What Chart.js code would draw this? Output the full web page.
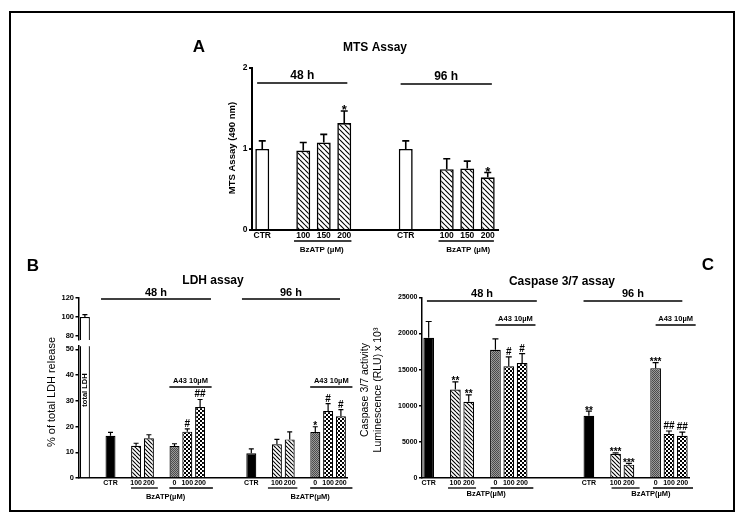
<!DOCTYPE html>
<html>
<head>
<meta charset="utf-8">
<script src="https://cdn.jsdelivr.net/npm/chart.js@4.4.1/dist/chart.umd.min.js"></script>
<style>
html, body { margin: 0; padding: 0; background: #fff; }
#page { position: relative; width: 742px; height: 523px; overflow: hidden; }
#page canvas { position: absolute; left: 0; top: 0; }
#frame { position: absolute; left: 9px; top: 11px; width: 722px; height: 497px; border: 2px solid #000; }
</style>
</head>
<body>
<div id="page">
  <div id="frame"></div>
  <canvas id="chartA" width="742" height="523"></canvas>
  <canvas id="chartBTop" width="742" height="523"></canvas>
  <canvas id="chartB" width="742" height="523"></canvas>
  <canvas id="chartC" width="742" height="523"></canvas>
</div>
<script>
'use strict';

// A - MTS assay
const mtsCategories = ['CTR', '', '100', '150', '200', '', '', 'CTR', '', '100', '150', '200'];
const mtsTreatment  = ['ctr', null, 'bz', 'bz', 'bz', null, null, 'ctr', null, 'bz', 'bz', 'bz'];
const mtsMean       = [1.00, null, 0.98, 1.08, 1.32, null, null, 1.00, null, 0.75, 0.76, 0.65];
const mtsSem        = [0.10, null, 0.10, 0.10, 0.15, null, null, 0.10, null, 0.13, 0.09, 0.06];
const mtsSig        = ['', '', '', '', '*', '', '', '', '', '', '', '*'];
const mtsTicks      = [0, 1, 2];

// B - LDH assay (first column = total LDH)
const ldhCategories = ['', '', 'CTR', '', '100', '200', '', '0', '100', '200', '', '', '', 'CTR', '', '100', '200', '', '0', '100', '200'];
const ldhTreatment  = ['total', null, 'ctr', null, 'bz', 'bz', null, 'a43', 'a43bz', 'a43bz', null, null, null, 'ctr', null, 'bz', 'bz', null, 'a43', 'a43bz', 'a43bz'];
const ldhMean       = [100, null, 16.4, null, 12.5, 15.4, null, 12.4, 18.0, 27.6, null, null, null, 9.6, null, 13.1, 15.0, null, 17.9, 26.0, 24.0];
const ldhSem        = [2.5, null, 1.3, null, 1.0, 1.4, null, 0.9, 1.1, 2.9, null, null, null, 1.7, null, 1.9, 2.9, null, 2.0, 2.9, 2.6];
const ldhSig        = ['', '', '', '', '', '', '', '', '#', '##', '', '', '', '', '', '', '', '', '*', '#', '#'];
const ldhTicksLow   = [0, 10, 20, 30, 40, 50];
const ldhTicksHigh  = [80, 100, 120];

// C - Caspase 3/7 assay
const casCategories = ['CTR', '', '100', '200', '', '0', '100', '200', '', '', '', '', 'CTR', '', '100', '200', '', '0', '100', '200'];
const casTreatment  = ['ctr', null, 'bz', 'bz', null, 'a43', 'a43bz', 'a43bz', null, null, null, null, 'ctr', null, 'bz', 'bz', null, 'a43', 'a43bz', 'a43bz'];
const casMean       = [19400, null, 12250, 10550, null, 17750, 15450, 15900, null, null, null, null, 8600, null, 3350, 1850, null, 15200, 6100, 5850];
const casSem        = [2250, null, 1050, 950, null, 1500, 1300, 1300, null, null, null, null, 650, null, 130, 180, null, 750, 400, 500];
const casSig        = ['', '', '**', '**', '', '', '#', '#', '', '', '', '', '**', '', '***', '***', '', '***', '##', '##'];
const casTicks      = [0, 5000, 10000, 15000, 20000, 25000];

const FONT = '"Liberation Sans", Arial, sans-serif';
const AXIS_W = 30;
const AXIS_H = 20;

Chart.defaults.font.family = FONT;
Chart.defaults.color = '#000';

function makePattern(size, paint) {
	const c = document.createElement('canvas');
	c.width = size;
	c.height = size;
	const g = c.getContext('2d');
	g.fillStyle = '#fff';
	g.fillRect(0, 0, size, size);
	paint(g, size);
	return g.createPattern(c, 'repeat');
}

function hatch(size) {
	return makePattern(size, (g, n) => {
		g.strokeStyle = '#000';
		g.lineWidth = 1.1;
		g.beginPath();
		for (let k = -n; k <= n; k += n) {
			g.moveTo(0, k);
			g.lineTo(n, n + k);
		}
		g.stroke();
	});
}

const checker = makePattern(4, g => {
	g.fillStyle = '#000';
	g.fillRect(0, 0, 2, 2);
	g.fillRect(2, 2, 2, 2);
});

const grey = makePattern(2, g => {
	g.fillStyle = '#9a9a9a';
	g.fillRect(0, 0, 2, 2);
	g.fillStyle = '#4a4a4a';
	g.fillRect(0, 0, 1, 1);
	g.fillRect(1, 1, 1, 1);
});

const fillsA  = { ctr: '#fff', bz: hatch(5) };
const fillsBC = { total: '#fff', ctr: '#000', bz: hatch(4), a43: grey, a43bz: checker };

// error bars, significance marks, group lines and texts
const panelDecor = {
	id: 'panelDecor',
	afterDatasetsDraw(chart, args, opts) {
		if (!opts.mean) return;
		const ctx = chart.ctx, xs = chart.scales.x, ys = chart.scales.y;
		ctx.save();
		ctx.strokeStyle = '#000';
		ctx.fillStyle = '#000';
		ctx.lineWidth = opts.errWidth;
		opts.mean.forEach((m, i) => {
			if (m === null || !opts.sem[i]) return;
			const top = m + opts.sem[i];
			if (top > ys.max || m < ys.min) return;
			const cx = xs.getPixelForValue(i);
			const y0 = ys.getPixelForValue(m);
			const y1 = ys.getPixelForValue(top);
			ctx.beginPath();
			ctx.moveTo(cx, y0);
			ctx.lineTo(cx, y1);
			ctx.moveTo(cx - opts.cap, y1);
			ctx.lineTo(cx + opts.cap, y1);
			ctx.stroke();
			const s = opts.sig[i];
			if (s) {
				ctx.font = 'bold ' + opts.sigSize + 'px ' + FONT;
				ctx.textAlign = 'center';
				ctx.textBaseline = 'alphabetic';
				const base = s.indexOf('*') >= 0 ? y1 + opts.sigSize * 0.35 - 1 : y1 - 2;
				ctx.fillText(s, cx, base);
			}
		});
		ctx.restore();
	},
	afterDraw(chart, args, opts) {
		const ctx = chart.ctx, xs = chart.scales.x;
		ctx.save();
		ctx.strokeStyle = '#000';
		ctx.fillStyle = '#000';
		(opts.lines || []).forEach(l => {
			ctx.lineWidth = l.w || 1.5;
			ctx.beginPath();
			ctx.moveTo(xs.getPixelForValue(l.from), l.y);
			ctx.lineTo(xs.getPixelForValue(l.to), l.y);
			ctx.stroke();
		});
		(opts.texts || []).forEach(t => {
			const px = t.i !== undefined ? xs.getPixelForValue(t.i) : t.px;
			ctx.save();
			ctx.font = t.font + ' ' + FONT;
			ctx.textAlign = 'center';
			ctx.textBaseline = 'middle';
			ctx.translate(px, t.y);
			if (t.rotate) ctx.rotate(-Math.PI / 2);
			ctx.fillText(t.text, 0, 0);
			ctx.restore();
		});
		ctx.restore();
	}
};

function yAxis(min, max, ticks, lw, size) {
	return {
		min: min,
		max: max,
		afterFit: s => { s.width = AXIS_W; },
		afterBuildTicks: s => { s.ticks = ticks.map(v => ({ value: v })); },
		grid: { display: true, drawOnChartArea: false, drawTicks: true, tickLength: 3, color: '#000', lineWidth: lw },
		border: { display: true, color: '#000', width: lw },
		ticks: {
			color: '#000',
			padding: 1.5,
			autoSkip: false,
			font: { size: size, weight: 'bold' },
			callback: v => String(v)
		}
	};
}

function xAxis(show, lw, size) {
	return {
		type: 'category',
		display: show,
		offset: true,
		afterFit: s => { s.height = AXIS_H; },
		grid: { display: false, drawTicks: false },
		border: { display: true, color: '#000', width: lw },
		ticks: { autoSkip: false, maxRotation: 0, color: '#000', padding: 1, font: { size: size, weight: 'bold' } }
	};
}

function makeChart(id, cfg) {
	return new Chart(document.getElementById(id), {
		type: 'bar',
		data: {
			labels: cfg.labels,
			datasets: [{
				data: cfg.values,
				backgroundColor: cfg.kinds.map(k => (k ? cfg.fills[k] : 'transparent')),
				borderColor: '#000',
				borderWidth: cfg.barBorder,
				borderSkipped: 'start',
				barPercentage: cfg.barPct,
				categoryPercentage: 1
			}]
		},
		options: {
			responsive: false,
			animation: false,
			devicePixelRatio: 1,
			layout: { padding: cfg.pad },
			plugins: {
				legend: { display: false },
				tooltip: { enabled: false },
				panelDecor: cfg.decor
			},
			scales: { x: cfg.x, y: cfg.y }
		},
		plugins: [panelDecor]
	});
}

// ---- A ----
makeChart('chartA', {
	labels: mtsCategories,
	values: mtsMean,
	kinds: mtsTreatment,
	fills: fillsA,
	barBorder: 1.6,
	barPct: 0.68,
	pad: { left: 252 - AXIS_W, right: 742 - 498, top: 68, bottom: 523 - 230 - AXIS_H },
	x: xAxis(true, 2, 8.5),
	y: yAxis(0, 2, mtsTicks, 2, 8.5),
	decor: {
		mean: mtsMean, sem: mtsSem, sig: mtsSig, cap: 3.5, errWidth: 1.6, sigSize: 13,
		lines: [
			{ from: -0.25, to: 4.15, y: 83, w: 1.6 },
			{ from: 6.75, to: 11.2, y: 84, w: 1.6 },
			{ from: 1.55, to: 4.35, y: 241, w: 1.6 },
			{ from: 8.6, to: 11.3, y: 241, w: 1.6 }
		],
		texts: [
			{ text: 'A', px: 199, y: 47, font: 'bold 17px' },
			{ text: 'MTS Assay', px: 375, y: 48, font: 'bold 12px' },
			{ text: '48 h', i: 1.95, y: 76, font: 'bold 12px' },
			{ text: '96 h', i: 8.97, y: 77, font: 'bold 12px' },
			{ text: 'BzATP (µM)', i: 2.9, y: 250, font: 'bold 8px' },
			{ text: 'BzATP (µM)', i: 10.05, y: 250, font: 'bold 8px' },
			{ text: 'MTS Assay (490 nm)', px: 232, y: 148, font: 'bold 9.5px', rotate: true }
		]
	}
});

// ---- B (broken axis: upper part 80-120, lower part 0-50) ----
const ldhLeft = 78.5, ldhRight = 78.5 + 12.8 * ldhCategories.length;

makeChart('chartBTop', {
	labels: ldhCategories,
	values: ldhMean.map((v, i) => (ldhTreatment[i] === 'total' ? v : null)),
	kinds: ldhTreatment,
	fills: fillsBC,
	barBorder: 1.2,
	barPct: 0.78,
	pad: { left: ldhLeft - AXIS_W, right: 742 - ldhRight, top: 298, bottom: 523 - 340 - AXIS_H },
	x: xAxis(false, 1.5, 7),
	y: yAxis(76, 120, ldhTicksHigh, 1.5, 7.5),
	decor: { mean: ldhMean, sem: ldhSem, sig: ldhSig, cap: 2.5, errWidth: 1.2, sigSize: 10 }
});

makeChart('chartB', {
	labels: ldhCategories,
	values: ldhMean,
	kinds: ldhTreatment,
	fills: fillsBC,
	barBorder: 1.2,
	barPct: 0.78,
	pad: { left: ldhLeft - AXIS_W, right: 742 - ldhRight, top: 346.2, bottom: 523 - 478 - AXIS_H },
	x: xAxis(true, 1.5, 7),
	y: yAxis(0, 51.2, ldhTicksLow, 1.5, 7.5),
	decor: {
		mean: ldhMean, sem: ldhSem, sig: ldhSig, cap: 2.5, errWidth: 1.2, sigSize: 10,
		lines: [
			{ from: 1.26, to: 9.85, y: 299 },
			{ from: 12.27, to: 19.93, y: 299 },
			{ from: 6.6, to: 9.9, y: 387, w: 1.3 },
			{ from: 17.6, to: 20.9, y: 387, w: 1.3 },
			{ from: 3.6, to: 5.7, y: 488, w: 1.3 },
			{ from: 6.6, to: 10.0, y: 488, w: 1.3 },
			{ from: 14.3, to: 16.6, y: 488, w: 1.3 },
			{ from: 17.6, to: 20.9, y: 488, w: 1.3 }
		],
		texts: [
			{ text: 'B', px: 33, y: 266, font: 'bold 17px' },
			{ text: 'LDH assay', px: 213, y: 281, font: 'bold 12px' },
			{ text: '48 h', i: 5.55, y: 293, font: 'bold 11px' },
			{ text: '96 h', i: 16.1, y: 293, font: 'bold 11px' },
			{ text: 'A43 10µM', i: 8.25, y: 381, font: 'bold 7.5px' },
			{ text: 'A43 10µM', i: 19.25, y: 381, font: 'bold 7.5px' },
			{ text: 'BzATP(µM)', i: 6.3, y: 497, font: 'bold 7.5px' },
			{ text: 'BzATP(µM)', i: 17.6, y: 497, font: 'bold 7.5px' },
			{ text: 'total LDH', i: 0, y: 390, font: 'bold 7.5px', rotate: true },
			{ text: '% of total LDH release', px: 52, y: 392, font: '11px', rotate: true }
		]
	}
});

// ---- C ----
makeChart('chartC', {
	labels: casCategories,
	values: casMean,
	kinds: casTreatment,
	fills: fillsBC,
	barBorder: 1.2,
	barPct: 0.8,
	pad: { left: 422 - AXIS_W, right: 742 - 689, top: 297.3, bottom: 523 - 478 - AXIS_H },
	x: xAxis(true, 1.5, 7),
	y: yAxis(0, 25000, casTicks, 1.5, 7),
	decor: {
		mean: casMean, sem: casSem, sig: casSig, cap: 3, errWidth: 1.2, sigSize: 10,
		lines: [
			{ from: -0.13, to: 8.1, y: 301 },
			{ from: 11.6, to: 19.0, y: 301 },
			{ from: 5.0, to: 8.0, y: 325, w: 1.3 },
			{ from: 17.0, to: 20.0, y: 325, w: 1.3 },
			{ from: 1.45, to: 3.55, y: 488, w: 1.3 },
			{ from: 4.64, to: 7.84, y: 488, w: 1.3 },
			{ from: 13.7, to: 15.8, y: 488, w: 1.3 },
			{ from: 16.8, to: 19.8, y: 488, w: 1.3 }
		],
		texts: [
			{ text: 'C', px: 708, y: 265, font: 'bold 17px' },
			{ text: 'Caspase 3/7 assay', px: 562, y: 282, font: 'bold 12px' },
			{ text: '48 h', i: 4.0, y: 294, font: 'bold 11px' },
			{ text: '96 h', i: 15.3, y: 294, font: 'bold 11px' },
			{ text: 'A43 10µM', i: 6.5, y: 319, font: 'bold 7.5px' },
			{ text: 'A43 10µM', i: 18.5, y: 319, font: 'bold 7.5px' },
			{ text: 'BzATP(µM)', i: 4.3, y: 494, font: 'bold 7.5px' },
			{ text: 'BzATP(µM)', i: 16.65, y: 494, font: 'bold 7.5px' },
			{ text: 'Caspase 3/7 activity', px: 365, y: 390, font: '10.5px', rotate: true },
			{ text: 'Luminescence (RLU) x 10³', px: 378, y: 390, font: '10.5px', rotate: true }
		]
	}
});
</script>
</body>
</html>
